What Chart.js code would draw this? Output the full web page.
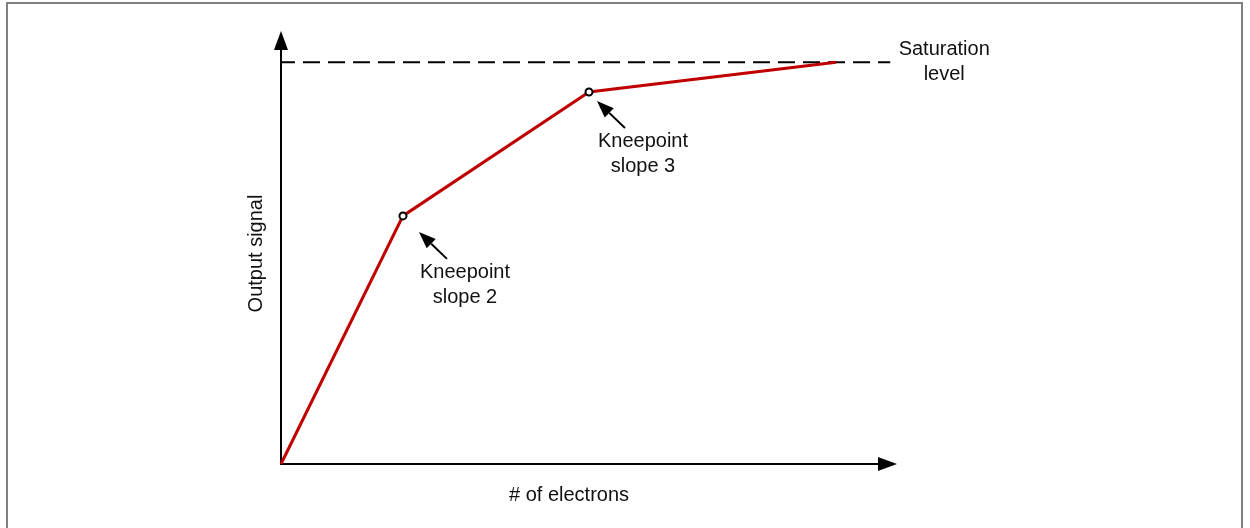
<!DOCTYPE html>
<html>
<head>
<meta charset="utf-8">
<script src="https://cdn.jsdelivr.net/npm/chart.js@4"></script>
<style>
  html, body { margin: 0; padding: 0; background: #fff; }
  #wrap { position: relative; width: 1250px; height: 528px; }
</style>
</head>
<body>
<div id="wrap"><canvas id="c" width="1250" height="528"></canvas></div>
<script>
// ---- Data ----
const electrons = [0, 19.8, 50, 90.1];          // x values (# of electrons, arbitrary units)
const outputSignal = [0, 57.3, 85.9, 92.8];     // y values (output signal, arbitrary units)
const kneepointMarks = [false, true, true, false];
const saturationLevel = 92.8;
const saturationSpan = [0, 98.9];
const kneeLabels = [["Kneepoint", "slope 2"], ["Kneepoint", "slope 3"]];
const saturationLabel = ["Saturation", "level"];
const xTitle = "# of electrons";
const yTitle = "Output signal";

const FONT = '20px "Liberation Sans", Arial, sans-serif';

function arrow(ctx, x1, y1, x2, y2, headLen, headW, lw) {
  const ang = Math.atan2(y2 - y1, x2 - x1);
  const bx = x2 - headLen * Math.cos(ang), by = y2 - headLen * Math.sin(ang);
  ctx.beginPath();
  ctx.lineWidth = lw;
  ctx.moveTo(x1, y1);
  ctx.lineTo(bx, by);
  ctx.stroke();
  ctx.beginPath();
  ctx.moveTo(x2, y2);
  ctx.lineTo(bx + headW / 2 * Math.sin(ang), by - headW / 2 * Math.cos(ang));
  ctx.lineTo(bx - headW / 2 * Math.sin(ang), by + headW / 2 * Math.cos(ang));
  ctx.closePath();
  ctx.fill();
}

const decor = {
  id: 'decor',
  beforeDatasetsDraw(chart) {
    const ctx = chart.ctx, a = chart.chartArea;
    const xs = chart.scales.x, ys = chart.scales.y;
    ctx.save();
    // outer frame
    ctx.strokeStyle = '#808080';
    ctx.lineWidth = 2;
    ctx.strokeRect(7, 3, 1235, 600);
    // axes with arrows
    ctx.strokeStyle = '#000';
    ctx.fillStyle = '#000';
    const x0 = xs.getPixelForValue(0), y0 = ys.getPixelForValue(0);
    arrow(ctx, x0, y0 + 1, x0, a.top, 19, 14, 2);
    arrow(ctx, x0 - 1, y0, a.right, y0, 19, 14, 2);
    // saturation dashed line
    const ySat = ys.getPixelForValue(saturationLevel);
    ctx.beginPath();
    ctx.setLineDash([17, 8]);
    ctx.lineDashOffset = 3;
    ctx.lineWidth = 2;
    ctx.moveTo(xs.getPixelForValue(saturationSpan[0]), ySat);
    ctx.lineTo(xs.getPixelForValue(saturationSpan[1]), ySat);
    ctx.stroke();
    ctx.setLineDash([]);
    ctx.restore();
  },
  afterDatasetsDraw(chart) {
    const ctx = chart.ctx, a = chart.chartArea;
    const xs = chart.scales.x, ys = chart.scales.y;
    ctx.save();
    ctx.fillStyle = '#111';
    ctx.strokeStyle = '#000';
    ctx.font = FONT;
    ctx.textAlign = 'center';
    ctx.textBaseline = 'middle';
    // kneepoint annotations: offsets relative to each knee point
    const offs = [
      { tx: 62, ty: 57, ax1: 44, ay1: 43, ax2: 16, ay2: 16 },
      { tx: 54, ty: 49, ax1: 36, ay1: 36, ax2: 8, ay2: 9 }
    ];
    let k = 0;
    for (let i = 0; i < electrons.length; i++) {
      if (!kneepointMarks[i]) continue;
      const px = xs.getPixelForValue(electrons[i]), py = ys.getPixelForValue(outputSignal[i]);
      const o = offs[k];
      ctx.fillStyle = '#000';
      arrow(ctx, px + o.ax1, py + o.ay1, px + o.ax2, py + o.ay2, 17, 13, 2);
      ctx.fillStyle = '#111';
      ctx.fillText(kneeLabels[k][0], px + o.tx, py + o.ty);
      ctx.fillText(kneeLabels[k][1], px + o.tx, py + o.ty + 25);
      k++;
    }
    // saturation label
    const ySat = ys.getPixelForValue(saturationLevel);
    const xEnd = xs.getPixelForValue(saturationSpan[1]);
    ctx.fillText(saturationLabel[0], xEnd + 54, ySat - 13);
    ctx.fillText(saturationLabel[1], xEnd + 54, ySat + 12);
    // axis titles
    ctx.fillText(xTitle, (a.left + a.right) / 2 - 20, a.bottom + 31);
    ctx.save();
    ctx.translate(a.left - 25, (a.top + a.bottom) / 2 + 6);
    ctx.rotate(-Math.PI / 2);
    ctx.fillText(yTitle, 0, 0);
    ctx.restore();
    ctx.restore();
  }
};

new Chart(document.getElementById('c'), {
  type: 'line',
  data: {
    datasets: [{
      data: electrons.map((x, i) => ({ x, y: outputSignal[i] })),
      borderColor: '#C00000',
      borderWidth: 3,
      pointRadius: kneepointMarks.map(m => m ? 3.5 : 0),
      pointBackgroundColor: '#fff',
      pointBorderColor: '#000',
      pointBorderWidth: 2,
      tension: 0,
      clip: false
    }]
  },
  options: {
    responsive: false,
    animation: false,
    devicePixelRatio: 1,
    layout: { padding: { left: 281, right: 353, top: 31, bottom: 64 } },
    plugins: { legend: { display: false }, tooltip: { enabled: false } },
    scales: {
      x: { type: 'linear', min: 0, max: 100, display: false },
      y: { type: 'linear', min: 0, max: 100, display: false }
    }
  },
  plugins: [decor]
});
</script>
</body>
</html>
